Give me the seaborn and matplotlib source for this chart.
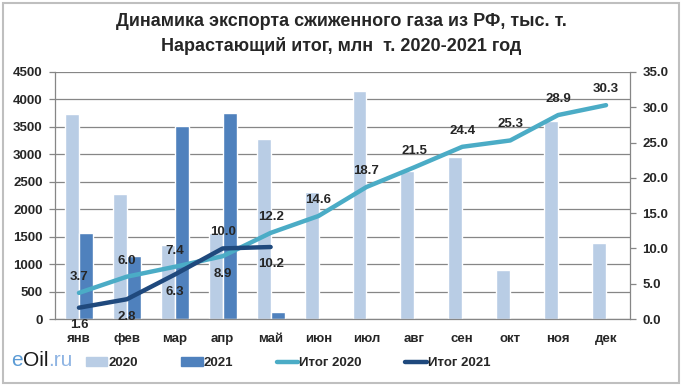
import numpy as np
import pandas as pd
import seaborn as sns
import matplotlib.pyplot as plt
from matplotlib.patches import Patch, Rectangle
from matplotlib.lines import Line2D

# monthly LNG export, thousand tonnes, and running totals, million tonnes
months = ["янв", "фев", "мар", "апр", "май", "июн", "июл", "авг", "сен", "окт", "ноя", "дек"]
export_2020 = [3740, 2275, 1350, 1565, 3285, 2320, 4155, 2700, 2945, 885, 3605, 1390]
export_2021 = [1575, 1145, 3520, 3760, 135]
total_2020 = [3.7, 6.0, 7.4, 8.9, 12.2, 14.6, 18.7, 21.5, 24.4, 25.3, 28.9, 30.3]
total_2021 = [1.6, 2.8, 6.3, 10.0, 10.2]
# where the data label sits: 1 above the line, -1 below
side_2020 = [1, 1, 1, -1, 1, 1, 1, 1, 1, 1, 1, 1]
side_2021 = [-1, -1, -1, 1, -1]

c_2020 = "#B9CDE5"
c_2021 = "#4F81BD"
c_tot20 = "#4BACC6"
c_tot21 = "#1F497D"
grid_c = "#868686"

sns.set_style("white")
plt.rcParams["font.family"] = ["Liberation Sans", "DejaVu Sans"]
plt.rcParams["font.weight"] = "bold"

bars = pd.DataFrame({
    "month": months * 2,
    "year": ["2020"] * 12 + ["2021"] * 12,
    "value": export_2020 + export_2021 + [np.nan] * (12 - len(export_2021)),
})

fig = plt.figure(figsize=(6.82, 3.89), dpi=100)
fig.patches.append(Rectangle((3 / 682, 6 / 389), 676 / 682, 380 / 389, transform=fig.transFigure,
                             fill=False, edgecolor="#BFBFBF", linewidth=1.5))

ax = fig.add_axes([55 / 682, 1 - 319 / 389, 575 / 682, 247 / 389])
sns.barplot(data=bars, x="month", y="value", hue="year", order=months, hue_order=["2020", "2021"],
            palette=[c_2020, c_2021], saturation=1, width=0.58, gap=0, legend=False, ax=ax)
ax.set_xlim(-0.5, len(months) - 0.5)
ax.set_ylim(0, 4500)
ax.set_yticks(np.arange(0, 4501, 500))
ax.set_xlabel("")
ax.set_ylabel("")
ax.set_axisbelow(True)
ax.yaxis.grid(True, color=grid_c, linewidth=0.9)
ax.set_xticks(np.arange(-0.5, len(months), 1), minor=True)
ax.tick_params(axis="x", which="major", length=0, pad=10, labelsize=9.5)
ax.tick_params(axis="x", which="minor", length=5, width=0.9, color=grid_c, direction="out")
ax.tick_params(axis="y", length=4, width=0.9, color=grid_c, direction="out", pad=5, labelsize=9.5, left=True)
for s in ["left", "bottom"]:
    ax.spines[s].set_color(grid_c)
    ax.spines[s].set_linewidth(0.9)
ax.spines["top"].set_visible(False)
ax.spines["right"].set_visible(False)

ax2 = ax.twinx()
x20 = np.arange(len(total_2020))
x21 = np.arange(len(total_2021))
sns.lineplot(x=x20, y=total_2020, color=c_tot20, linewidth=3.2, ax=ax2)
sns.lineplot(x=x21, y=total_2021, color=c_tot21, linewidth=3.2, ax=ax2)
ax2.set_ylim(0, 35)
ax2.set_yticks(np.arange(0, 35.1, 5))
ax2.set_yticklabels([f"{v:.1f}" for v in np.arange(0, 35.1, 5)])
ax2.tick_params(axis="y", length=4, width=0.9, color=grid_c, direction="out", pad=5, labelsize=9.5, right=True)
for s in ["top", "left", "bottom"]:
    ax2.spines[s].set_visible(False)
ax2.spines["right"].set_color(grid_c)
ax2.spines["right"].set_linewidth(0.9)

for xs, vals, sides in [(x20, total_2020, side_2020), (x21, total_2021, side_2021)]:
    for xi, v, sd in zip(xs, vals, sides):
        ax2.annotate(f"{v:.1f}", (xi, v), xytext=(0, 11.5 if sd > 0 else -12.5), textcoords="offset points",
                     ha="center", va="center", fontsize=9.5, fontweight="bold")

fig.text(0.5, 1 - 22 / 389, "Динамика экспорта сжиженного газа из РФ, тыс. т.",
         ha="center", va="center", fontsize=13, fontweight="bold")
fig.text(0.5, 1 - 46 / 389, "Нарастающий итог, млн  т. 2020-2021 год",
         ha="center", va="center", fontsize=13, fontweight="bold")

handles = [Patch(color=c_2020), Patch(color=c_2021),
           Line2D([], [], color=c_tot20, linewidth=3.2), Line2D([], [], color=c_tot21, linewidth=3.2)]
fig.legend(handles, ["2020", "2021", "Итог 2020", "Итог 2021"], ncol=4, frameon=False,
           loc="center left", bbox_to_anchor=(86 / 682, 1 - 363 / 389), fontsize=9.5,
           handlelength=1.6, handletextpad=0.1, columnspacing=3.3, borderpad=0, borderaxespad=0)

# site logo
fig.text(11 / 682, 1 - 361 / 389, "e", color="#5B9BD5", fontsize=15, fontweight="normal", va="center", ha="left")
fig.text(23 / 682, 1 - 361 / 389, "Oil", color="#1A1A1A", fontsize=15, fontweight="normal", va="center", ha="left")
fig.text(48 / 682, 1 - 361 / 389, ".ru", color="#8EB4E3", fontsize=15, fontweight="normal", va="center", ha="left")

fig.savefig("out.png", dpi=100)
